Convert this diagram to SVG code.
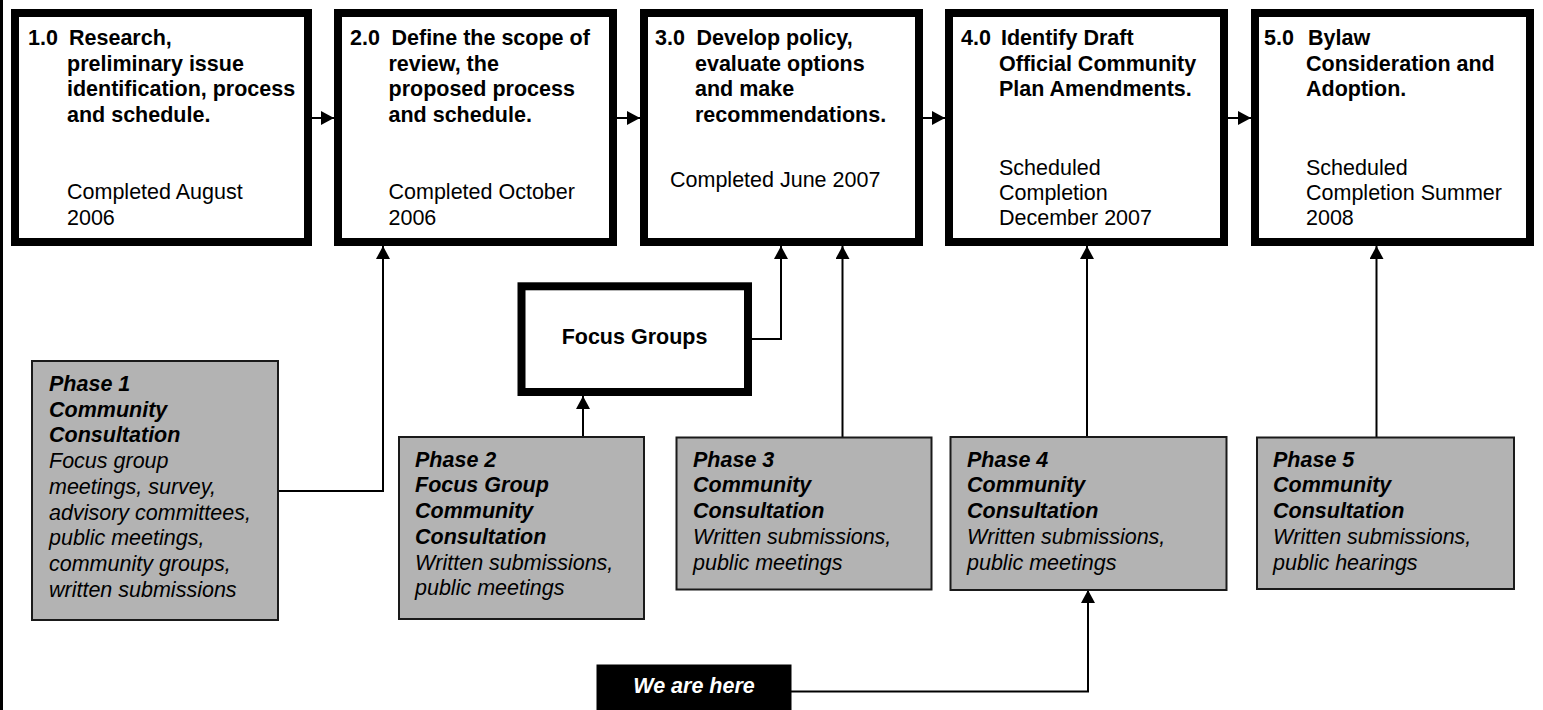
<svg xmlns="http://www.w3.org/2000/svg" width="1543" height="710" viewBox="0 0 1543 710">
<style>
.box{fill:#fff;stroke:#000;stroke-width:8}
.phase{fill:#b3b3b3;stroke:#1a1a1a;stroke-width:2}
.fg{fill:#fff;stroke:#000;stroke-width:8}
.here{fill:#000;stroke:#000;stroke-width:1}
.t{font-family:"Liberation Sans",Arial,Helvetica,sans-serif;font-size:21.5px;fill:#000}
.b{font-weight:bold}
.i{font-style:italic}
.w{fill:#fff}
.conn{fill:none;stroke:#000;stroke-width:2}
</style>
<defs>
<marker id="ah" markerUnits="userSpaceOnUse" markerWidth="14" markerHeight="14" refX="13" refY="7" orient="auto">
<path d="M0,0 L13,7 L0,14 z" fill="#000"/>
</marker>
</defs>
<line x1="1.5" y1="0" x2="1.5" y2="710" stroke="#000" stroke-width="3"/>

<g id="connectors">
<path class="conn" d="M312,118 H334" marker-end="url(#ah)"/>
<path class="conn" d="M617,118 H640" marker-end="url(#ah)"/>
<path class="conn" d="M923,118 H945" marker-end="url(#ah)"/>
<path class="conn" d="M1228,118 H1251" marker-end="url(#ah)"/>
<path class="conn" d="M278,491 H383 V246" marker-end="url(#ah)"/>
<path class="conn" d="M583,437 V396" marker-end="url(#ah)"/>
<path class="conn" d="M752,339 H781 V246" marker-end="url(#ah)"/>
<path class="conn" d="M842.5,437.5 V246" marker-end="url(#ah)"/>
<path class="conn" d="M1087,437 V246" marker-end="url(#ah)"/>
<path class="conn" d="M1376.5,437.5 V246" marker-end="url(#ah)"/>
<path class="conn" d="M791,691.5 H1088 V590" marker-end="url(#ah)"/>
</g>

<g id="step1">
<rect class="box" x="15" y="13" width="293" height="229"/>
<text class="t b"><tspan x="28" y="45">1.0</tspan><tspan x="69" y="45">Research,</tspan><tspan x="67" y="70.7">preliminary issue</tspan><tspan x="67" y="96.4">identification, process</tspan><tspan x="67" y="122.1">and schedule.</tspan></text>
<text class="t"><tspan x="67" y="199">Completed August</tspan><tspan x="67" y="225">2006</tspan></text>
</g>

<g id="step2">
<rect class="box" x="338" y="13" width="275" height="229"/>
<text class="t b"><tspan x="350" y="45">2.0</tspan><tspan x="391.5" y="45">Define the scope of</tspan><tspan x="388.5" y="70.7">review, the</tspan><tspan x="388.5" y="96.4">proposed process</tspan><tspan x="388.5" y="122.1">and schedule.</tspan></text>
<text class="t"><tspan x="388.5" y="199">Completed October</tspan><tspan x="388.5" y="225">2006</tspan></text>
</g>

<g id="step3">
<rect class="box" x="644" y="13" width="275" height="229"/>
<text class="t b"><tspan x="655" y="45">3.0</tspan><tspan x="696.5" y="45">Develop policy,</tspan><tspan x="695" y="70.7">evaluate options</tspan><tspan x="695" y="96.4">and make</tspan><tspan x="695" y="122.1">recommendations.</tspan></text>
<text class="t"><tspan x="670" y="187">Completed June 2007</tspan></text>
</g>

<g id="step4">
<rect class="box" x="949" y="13" width="275" height="229"/>
<text class="t b"><tspan x="961" y="45">4.0</tspan><tspan x="1001" y="45">Identify Draft</tspan><tspan x="999" y="70.7">Official Community</tspan><tspan x="999" y="96.4">Plan Amendments.</tspan></text>
<text class="t"><tspan x="999" y="175">Scheduled</tspan><tspan x="999" y="200">Completion</tspan><tspan x="999" y="225">December 2007</tspan></text>
</g>

<g id="step5">
<rect class="box" x="1255" y="13" width="275" height="229"/>
<text class="t b"><tspan x="1264" y="45">5.0</tspan><tspan x="1308" y="45">Bylaw</tspan><tspan x="1306" y="70.7">Consideration and</tspan><tspan x="1306" y="96.4">Adoption.</tspan></text>
<text class="t"><tspan x="1306" y="175">Scheduled</tspan><tspan x="1306" y="200">Completion Summer</tspan><tspan x="1306" y="225">2008</tspan></text>
</g>

<g id="focus-groups">
<rect class="fg" x="521.5" y="286.3" width="226.5" height="105.7"/>
<text class="t b" x="634.5" y="344" text-anchor="middle">Focus Groups</text>
</g>

<g id="phase1">
<rect class="phase" x="32" y="361" width="246" height="259"/>
<text class="t b i"><tspan x="49" y="391">Phase 1</tspan><tspan x="49" y="416.7">Community</tspan><tspan x="49" y="442.4">Consultation</tspan></text>
<text class="t i"><tspan x="49" y="468.1">Focus group</tspan><tspan x="49" y="493.8">meetings, survey,</tspan><tspan x="49" y="519.5">advisory committees,</tspan><tspan x="49" y="545.2">public meetings,</tspan><tspan x="49" y="570.9">community groups,</tspan><tspan x="49" y="596.6">written submissions</tspan></text>
</g>

<g id="phase2">
<rect class="phase" x="399" y="437" width="245" height="182"/>
<text class="t b i"><tspan x="415" y="466.7">Phase 2</tspan><tspan x="415" y="492.4">Focus Group</tspan><tspan x="415" y="518.1">Community</tspan><tspan x="415" y="543.8">Consultation</tspan></text>
<text class="t i"><tspan x="415" y="569.5">Written submissions,</tspan><tspan x="415" y="595.2">public meetings</tspan></text>
</g>

<g id="phase3">
<rect class="phase" x="676.5" y="437.5" width="255" height="152"/>
<text class="t b i"><tspan x="693" y="466.7">Phase 3</tspan><tspan x="693" y="492.4">Community</tspan><tspan x="693" y="518.1">Consultation</tspan></text>
<text class="t i"><tspan x="693" y="543.8">Written submissions,</tspan><tspan x="693" y="569.5">public meetings</tspan></text>
</g>

<g id="phase4">
<rect class="phase" x="950.5" y="437" width="276" height="153"/>
<text class="t b i"><tspan x="967" y="466.7">Phase 4</tspan><tspan x="967" y="492.4">Community</tspan><tspan x="967" y="518.1">Consultation</tspan></text>
<text class="t i"><tspan x="967" y="543.8">Written submissions,</tspan><tspan x="967" y="569.5">public meetings</tspan></text>
</g>

<g id="phase5">
<rect class="phase" x="1257" y="437.5" width="257" height="151.5"/>
<text class="t b i"><tspan x="1273" y="466.7">Phase 5</tspan><tspan x="1273" y="492.4">Community</tspan><tspan x="1273" y="518.1">Consultation</tspan></text>
<text class="t i"><tspan x="1273" y="543.8">Written submissions,</tspan><tspan x="1273" y="569.5">public hearings</tspan></text>
</g>

<g id="we-are-here">
<rect class="here" x="597" y="665" width="194" height="46"/>
<text class="t b i w" x="694" y="693" text-anchor="middle">We are here</text>
</g>
</svg>
